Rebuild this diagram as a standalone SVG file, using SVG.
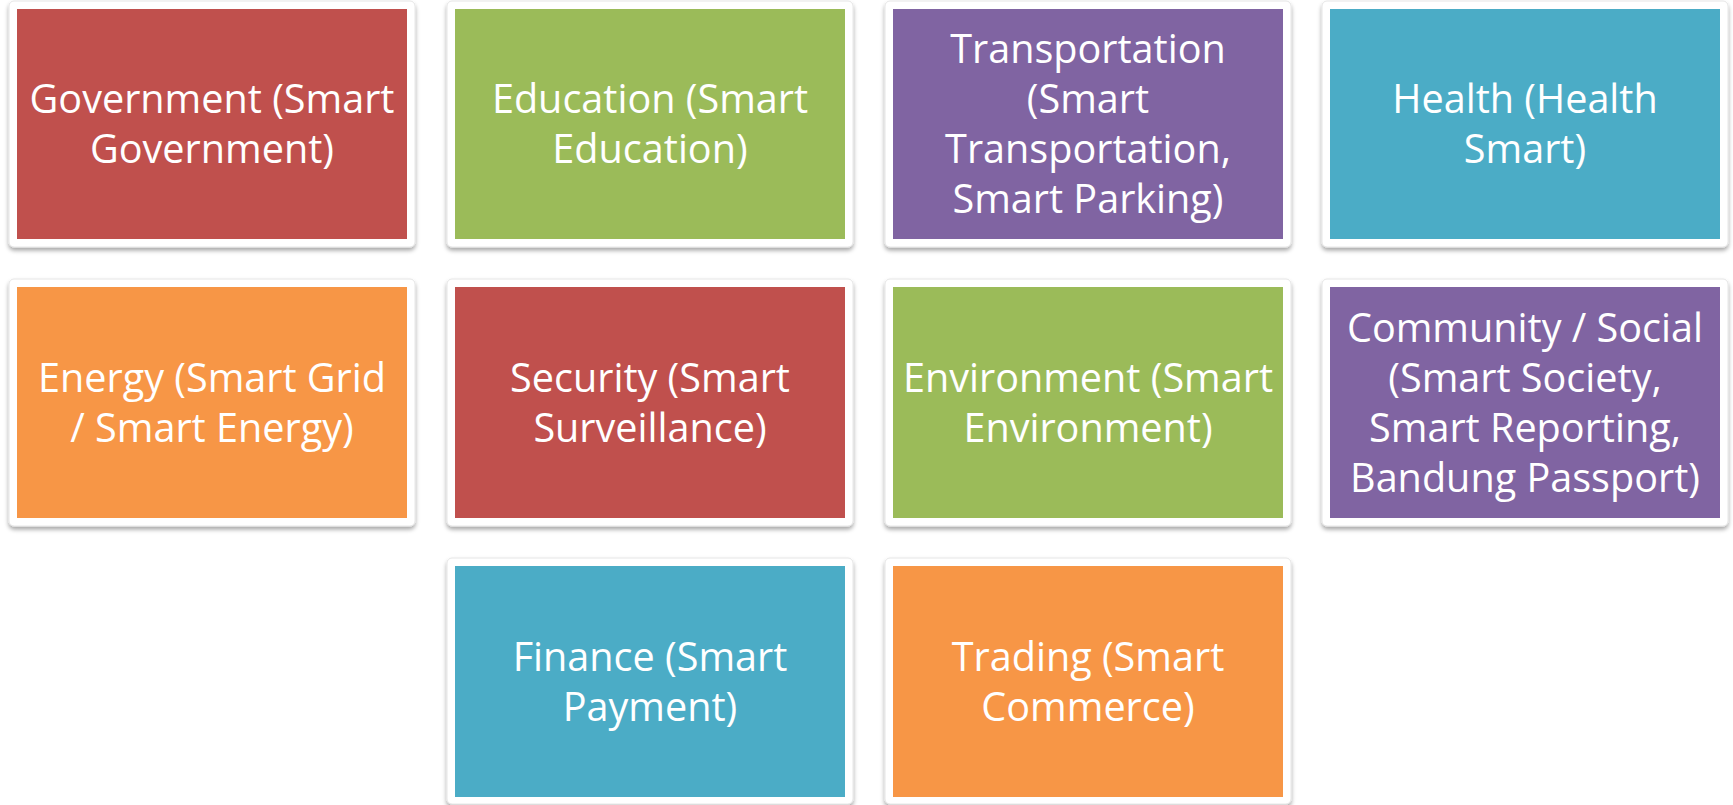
<svg xmlns="http://www.w3.org/2000/svg" width="1733" height="805" viewBox="0 0 1733 805">
<defs>
<filter id="sh" x="-5%" y="-5%" width="110%" height="115%">
<feDropShadow dx="0" dy="3" stdDeviation="2.2" flood-color="#000" flood-opacity="0.35"/>
</filter>
<style>
.frame{fill:#fff;stroke:#e6e6e6;stroke-width:1;filter:url(#sh)}
.red{fill:#C0504D}.green{fill:#9BBB59}.purple{fill:#8064A2}.blue{fill:#4BACC6}.orange{fill:#F79646}
text{font-family:"Open Sans","Noto Sans","Liberation Sans",sans-serif;font-size:39.6px;fill:#fff;text-anchor:middle}
</style>
</defs>
<rect width="1733" height="805" fill="#fff"/>
<g id="government">
<rect class="frame" x="9" y="1" width="406" height="246" rx="5"/>
<rect class="red" x="17" y="9" width="390" height="230"/>
<text x="212" y="113">Government (Smart</text>
<text x="212" y="163">Government)</text>
</g>
<g id="education">
<rect class="frame" x="447" y="1" width="406" height="246" rx="5"/>
<rect class="green" x="455" y="9" width="390" height="230"/>
<text x="650" y="113">Education (Smart</text>
<text x="650" y="163">Education)</text>
</g>
<g id="transportation">
<rect class="frame" x="885" y="1" width="406" height="246" rx="5"/>
<rect class="purple" x="893" y="9" width="390" height="230"/>
<text x="1088" y="63">Transportation</text>
<text x="1088" y="113">(Smart</text>
<text x="1088" y="163">Transportation,</text>
<text x="1088" y="213">Smart Parking)</text>
</g>
<g id="health">
<rect class="frame" x="1322" y="1" width="406" height="246" rx="5"/>
<rect class="blue" x="1330" y="9" width="390" height="230"/>
<text x="1525" y="113">Health (Health</text>
<text x="1525" y="163">Smart)</text>
</g>
<g id="energy">
<rect class="frame" x="9" y="279" width="406" height="247" rx="5"/>
<rect class="orange" x="17" y="287" width="390" height="231"/>
<text x="212" y="391.5">Energy (Smart Grid</text>
<text x="212" y="441.5">/ Smart Energy)</text>
</g>
<g id="security">
<rect class="frame" x="447" y="279" width="406" height="247" rx="5"/>
<rect class="red" x="455" y="287" width="390" height="231"/>
<text x="650" y="391.5">Security (Smart</text>
<text x="650" y="441.5">Surveillance)</text>
</g>
<g id="environment">
<rect class="frame" x="885" y="279" width="406" height="247" rx="5"/>
<rect class="green" x="893" y="287" width="390" height="231"/>
<text x="1088" y="391.5">Environment (Smart</text>
<text x="1088" y="441.5">Environment)</text>
</g>
<g id="community">
<rect class="frame" x="1322" y="279" width="406" height="247" rx="5"/>
<rect class="purple" x="1330" y="287" width="390" height="231"/>
<text x="1525" y="341.5">Community / Social</text>
<text x="1525" y="391.5">(Smart Society,</text>
<text x="1525" y="441.5">Smart Reporting,</text>
<text x="1525" y="491.5">Bandung Passport)</text>
</g>
<g id="finance">
<rect class="frame" x="447" y="558" width="406" height="246" rx="5"/>
<rect class="blue" x="455" y="566" width="390" height="231"/>
<text x="650" y="670.5">Finance (Smart</text>
<text x="650" y="720.5">Payment)</text>
</g>
<g id="trading">
<rect class="frame" x="885" y="558" width="406" height="246" rx="5"/>
<rect class="orange" x="893" y="566" width="390" height="231"/>
<text x="1088" y="670.5">Trading (Smart</text>
<text x="1088" y="720.5">Commerce)</text>
</g>
</svg>
